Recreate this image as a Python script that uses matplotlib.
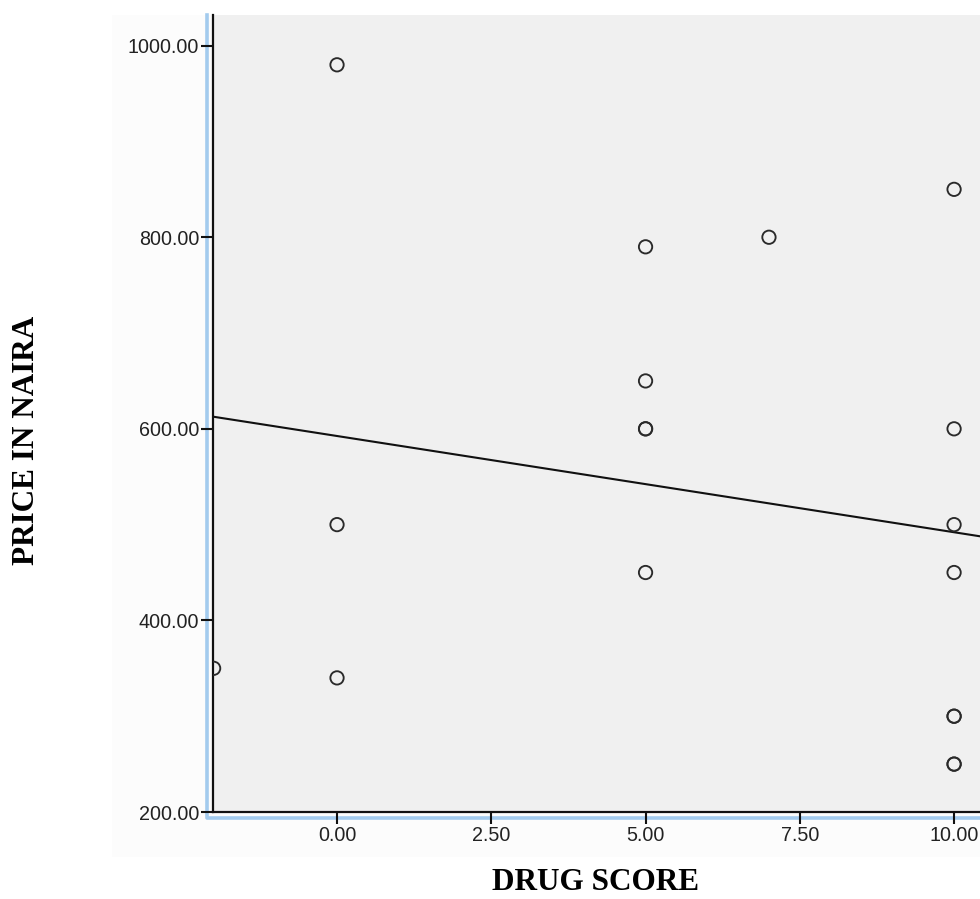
import numpy as np
import matplotlib
matplotlib.use("Agg")
import matplotlib.pyplot as plt
from matplotlib.lines import Line2D
from matplotlib.patches import Rectangle

# Data (duplicates shown as overlapping markers)
drug_score = [-2, 0, 0, 0, 5, 5, 5, 5, 5, 7, 10, 10, 10, 10, 10, 10, 10, 10]
price_naira = [350, 980, 500, 340, 790, 650, 600, 600, 450, 800,
               850, 600, 500, 450, 300, 300, 250, 250]
x_ticks = [0.0, 2.5, 5.0, 7.5, 10.0]
y_ticks = [200, 400, 600, 800, 1000]
x_label = "DRUG SCORE"
y_label = "PRICE IN NAIRA"

W, H = 980, 899
fig = plt.figure(figsize=(W / 100, H / 100), dpi=100)
fig.patch.set_facecolor("white")

# faint chart-frame background
fig.add_artist(Rectangle((112 / W, 1 - 857 / H), 1 - 112 / W, (857 - 15) / H,
                         transform=fig.transFigure, facecolor="#fcfcfc",
                         edgecolor="none", zorder=-3))

ax = fig.add_axes([213 / W, 1 - 812 / H, 1 - 213 / W, (812 - 15) / H])
ax.set_facecolor("#f0f0f0")

ax.scatter(drug_score, price_naira, s=92, facecolors="none",
           edgecolors="#2a2a2a", linewidths=1.35, zorder=3)

slope, intercept = np.polyfit(drug_score, price_naira, 1)
xlim = (-2.01, 10.42)
xs = np.array(xlim)
ax.plot(xs, intercept + slope * xs, color="#111111", lw=1.5, zorder=2)

ax.set_xlim(*xlim)
ax.set_ylim(200, 1032)
ax.set_xticks(x_ticks)
ax.set_yticks(y_ticks)
ax.set_xticklabels([f"{v:.2f}" for v in x_ticks])
ax.set_yticklabels([f"{v:.2f}" for v in y_ticks])

for s in ["top", "right"]:
    ax.spines[s].set_visible(False)
for s in ["left", "bottom"]:
    ax.spines[s].set_color("#111111")
    ax.spines[s].set_linewidth(1.6)

ax.tick_params(axis="both", direction="out", length=8.5, width=1.5,
               color="#111111", labelsize=14.2, labelcolor="#222222", pad=1.5)
for lab in ax.get_xticklabels() + ax.get_yticklabels():
    lab.set_fontfamily("Liberation Sans")

# light blue frame lines offset from the axes
fig.add_artist(Line2D([207 / W, 207 / W, 1.0],
                      [1 - 15 / H, 1 - 818 / H, 1 - 818 / H],
                      transform=fig.transFigure, color="#a3cbee", lw=2.6,
                      solid_joinstyle="round", zorder=-1))

fig.text(596 / W, 1 - 882 / H, x_label, ha="center", va="center",
         fontsize=22.5, fontweight="bold", family="Liberation Serif")
fig.text(27 / W, 1 - 440 / H, y_label, ha="center", va="center",
         rotation=90, fontsize=22.5, fontweight="bold",
         family="Liberation Serif")

fig.savefig("out.png", dpi=100)
